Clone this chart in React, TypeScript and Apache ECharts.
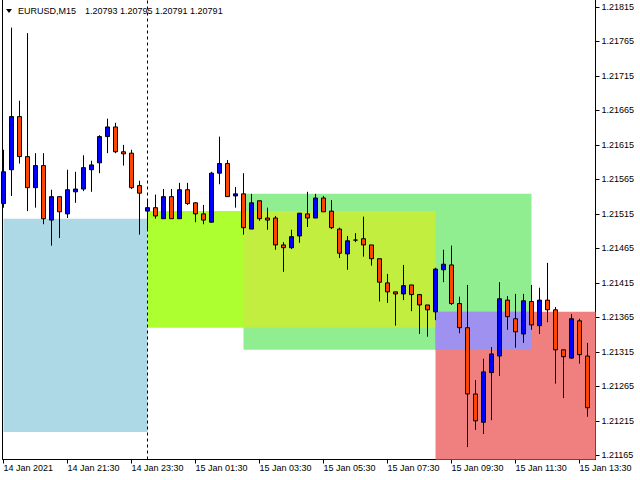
import React, { useEffect, useRef } from "react";
import * as echarts from "echarts";

// ---- data ----
const xTickLabels = [
  "14 Jan 2021",
  "14 Jan 21:30",
  "14 Jan 23:30",
  "15 Jan 01:30",
  "15 Jan 03:30",
  "15 Jan 05:30",
  "15 Jan 07:30",
  "15 Jan 09:30",
  "15 Jan 11:30",
  "15 Jan 13:30",
];

const yTicks = [
  1.21165, 1.21215, 1.21265, 1.21315, 1.21365, 1.21415, 1.21465, 1.21515,
  1.21565, 1.21615, 1.21665, 1.21715, 1.21765, 1.21815,
];

const opens = [
  1.2153, 1.21579, 1.21656, 1.21598, 1.21553, 1.21585, 1.21506, 1.2154, 1.21515, 1.21547,
  1.21551, 1.21579, 1.21589, 1.21627, 1.21641, 1.21605, 1.21603, 1.21556, 1.21519, 1.21524,
  1.21508, 1.2154, 1.21508, 1.2155, 1.21531, 1.21515, 1.21503, 1.21574, 1.21588, 1.21541,
  1.21544, 1.21493, 1.21534, 1.21509, 1.21509, 1.2147, 1.21466, 1.21483, 1.21515, 1.21509,
  1.21538, 1.21519, 1.21493, 1.21457, 1.21477, 1.21479, 1.2147, 1.2145, 1.21415, 1.21402,
  1.21399, 1.21412, 1.21398, 1.21383, 1.21373, 1.21434, 1.21441, 1.21385, 1.2135, 1.21254,
  1.21213, 1.21285, 1.21309, 1.2139, 1.21363, 1.21341, 1.21388, 1.21353, 1.2139, 1.21376,
  1.21318, 1.21306, 1.2136, 1.21309,
];
const closes = [
  1.21576, 1.21656, 1.21598, 1.21553, 1.21585, 1.21508, 1.2154, 1.21518, 1.2155, 1.21551,
  1.21582, 1.21586, 1.21627, 1.21641, 1.21605, 1.21602, 1.21553, 1.21545, 1.21524, 1.21512,
  1.2154, 1.21508, 1.2155, 1.2153, 1.21515, 1.21506, 1.21574, 1.21588, 1.2154, 1.21544,
  1.21495, 1.21531, 1.21508, 1.21506, 1.2147, 1.21466, 1.21482, 1.21516, 1.21509, 1.21538,
  1.21518, 1.21495, 1.21458, 1.21476, 1.21477, 1.2147, 1.2145, 1.21416, 1.21402, 1.21399,
  1.21411, 1.21398, 1.21383, 1.21376, 1.21435, 1.21442, 1.21385, 1.2135, 1.21254, 1.21215,
  1.21286, 1.21312, 1.21392, 1.21366, 1.21344, 1.21389, 1.21354, 1.2139, 1.21376, 1.21318,
  1.21308, 1.21363, 1.21311, 1.21234,
];
const lows = [
  1.21524, 1.21541, 1.21588, 1.21519, 1.21524, 1.215, 1.21469, 1.2148, 1.21509, 1.21531,
  1.21548, 1.21547, 1.21574, 1.21603, 1.21603, 1.21585, 1.21551, 1.21485, 1.21493, 1.21508,
  1.21508, 1.21508, 1.21508, 1.21528, 1.21503, 1.215, 1.21502, 1.21558, 1.2154, 1.21524,
  1.21485, 1.21493, 1.21505, 1.21492, 1.21463, 1.21431, 1.21464, 1.21473, 1.21496, 1.21509,
  1.21518, 1.21493, 1.21451, 1.21434, 1.21474, 1.21453, 1.2144, 1.21388, 1.21386, 1.21353,
  1.2139, 1.21374, 1.21341, 1.21337, 1.21361, 1.21416, 1.21383, 1.21342, 1.21177, 1.21202,
  1.21196, 1.21216, 1.2128, 1.21347, 1.21321, 1.21328, 1.21347, 1.21341, 1.21358, 1.21269,
  1.21248, 1.21305, 1.21298, 1.21221,
];
const highs = [
  1.21608, 1.21785, 1.21679, 1.21777, 1.21603, 1.21603, 1.2155, 1.2154, 1.21579, 1.21576,
  1.216, 1.21592, 1.21629, 1.21653, 1.21647, 1.21615, 1.21608, 1.21563, 1.21535, 1.21543,
  1.21551, 1.21551, 1.2156, 1.2156, 1.21532, 1.21528, 1.21576, 1.21627, 1.21593, 1.21554,
  1.21574, 1.21544, 1.21534, 1.21524, 1.21512, 1.21474, 1.21492, 1.21516, 1.21547, 1.21544,
  1.21541, 1.21535, 1.21495, 1.21483, 1.21487, 1.21511, 1.2147, 1.2145, 1.21428, 1.21402,
  1.21441, 1.21412, 1.21399, 1.21383, 1.21437, 1.21463, 1.21469, 1.21395, 1.21412, 1.21274,
  1.21305, 1.21322, 1.21416, 1.21396, 1.21399, 1.21399, 1.21412, 1.21408, 1.21444, 1.2138,
  1.21318, 1.2137, 1.21363, 1.21328,
];

const yMin = 1.21159;
const yMax = 1.21825;

// rectangles: [fromBar, toBar] and [lowPrice, highPrice]
const zoneBars = [
  [0, 18],
  [18, 54],
  [30, 66],
  [54, 74],
  [30, 54],
  [54, 66],
];
const zonePrices = [
  [1.21199, 1.21508],
  [1.2135, 1.21519],
  [1.21318, 1.21544],
  [yMin, 1.21373],
  [1.2135, 1.21519],
  [1.21318, 1.21373],
];
const zoneColors = ["#ADD8E6", "#ADFF2F", "#90EE90", "#F08080", "#C2EE40", "#9F91EF"];

const separatorBar = 18;
const headerSymbol = "EURUSD,M15";
const headerPrices = "1.20793 1.20795 1.20791 1.20791";

// 75 slots of 15 minutes starting 14 Jan 19:30 (last slot is empty space)
const categories: string[] = Array.from({ length: 75 }, (_, k) => {
  const t = 19 * 60 + 30 + 15 * k;
  const day = 14 + Math.floor(t / 1440);
  const m = t % 1440;
  const hh = String(Math.floor(m / 60)).padStart(2, "0");
  const mm = String(m % 60).padStart(2, "0");
  return `${day} Jan ${hh}:${mm}`;
});

const FONT = '"Liberation Sans", Arial, sans-serif';

export default function App() {
  const ref = useRef<HTMLDivElement>(null);

  useEffect(() => {
    if (!ref.current) return;
    const chart = echarts.init(ref.current, null, { renderer: "svg" });

    const candleData = opens.map((o, i) => [o, closes[i], lows[i], highs[i]]);

    const areaData = zoneBars.map((b, i) => [
      {
        xAxis: b[0],
        yAxis: zonePrices[i][1],
        itemStyle: { color: zoneColors[i], opacity: 1 },
      },
      { xAxis: b[1], yAxis: zonePrices[i][0] },
    ]);

    chart.setOption({
      animation: false,
      backgroundColor: "#ffffff",
      textStyle: { fontFamily: FONT },
      grid: { left: 3.5, right: 44.5, top: 0, bottom: 20.5, containLabel: false },
      xAxis: {
        type: "category",
        data: categories,
        boundaryGap: false,
        axisLine: { show: true, lineStyle: { color: "#000", width: 1 } },
        axisTick: { show: true, interval: 7, length: 4, lineStyle: { color: "#000" } },
        axisLabel: {
          show: true,
          interval: 7,
          align: "left",
          margin: 4,
          color: "#000",
          fontSize: 9,
          fontFamily: FONT,
          formatter: (_v: string, idx: number) =>
            idx % 8 === 0 && xTickLabels[idx / 8] ? xTickLabels[idx / 8] : "",
        },
        splitLine: { show: false },
      },
      yAxis: [
        {
          type: "value",
          position: "right",
          min: yMin,
          max: yMax,
          scale: true,
          axisLine: { show: true, lineStyle: { color: "#000", width: 1 } },
          axisTick: {
            show: true,
            length: 4,
            customValues: yTicks,
            lineStyle: { color: "#000" },
          },
          axisLabel: {
            show: true,
            customValues: yTicks,
            margin: 6,
            color: "#000",
            fontSize: 9,
            fontFamily: FONT,
            formatter: (v: number) => v.toFixed(5),
          },
          splitLine: { show: false },
        },
        {
          type: "value",
          position: "left",
          offset: 1,
          min: yMin,
          max: yMax,
          scale: true,
          axisLine: { show: true, lineStyle: { color: "#000", width: 1 } },
          axisTick: { show: false },
          axisLabel: { show: false },
          splitLine: { show: false },
        },
      ],
      graphic: [
        {
          type: "polygon",
          shape: { points: [[6, 9], [12, 9], [9, 13]] },
          style: { fill: "#000" },
          silent: true,
        },
        {
          type: "text",
          x: 18,
          y: 11,
          style: {
            text: headerSymbol,
            fill: "#000",
            fontSize: 9,
            fontFamily: FONT,
            verticalAlign: "middle",
          },
          silent: true,
        },
        {
          type: "text",
          x: 85,
          y: 11,
          style: {
            text: headerPrices,
            fill: "#000",
            fontSize: 9,
            fontFamily: FONT,
            verticalAlign: "middle",
          },
          silent: true,
        },
      ],
      series: [
        {
          type: "line",
          data: [],
          z: 1,
          silent: true,
          markArea: {
            silent: true,
            label: { show: false },
            emphasis: { disabled: true },
            data: areaData,
          },
        },
        {
          type: "line",
          data: [],
          z: 2,
          silent: true,
          markLine: {
            silent: true,
            symbol: ["none", "none"],
            label: { show: false },
            lineStyle: { color: "#000", width: 1, type: [3, 3] },
            emphasis: { disabled: true },
            data: [{ xAxis: separatorBar }],
          },
        },
        {
          type: "candlestick",
          z: 3,
          barWidth: 4,
          data: candleData,
          silent: true,
          itemStyle: {
            color: "#0000FF",
            color0: "#FF4500",
            borderColor: "#000000",
            borderColor0: "#000000",
            borderColorDoji: "#000000",
            borderWidth: 1,
          },
        },
      ],
    });

    return () => chart.dispose();
  }, []);

  return (
    <div
      ref={ref}
      style={{ position: "absolute", left: 0, top: 0, width: 640, height: 480 }}
    />
  );
}
